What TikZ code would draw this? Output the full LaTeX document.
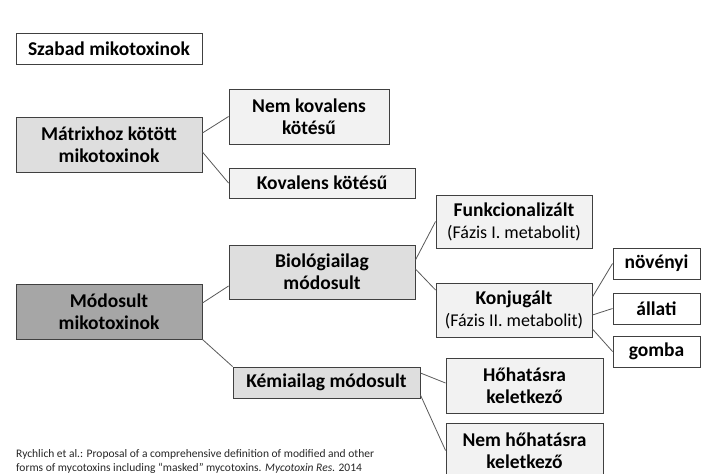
\documentclass[tikz,border=0pt]{standalone}
\usepackage{fontspec}
\setmainfont{Carlito}
\definecolor{edge}{HTML}{404040}
\definecolor{wire}{HTML}{595959}
\definecolor{pale}{HTML}{F2F2F2}
\definecolor{mid}{HTML}{DEDEDE}
\definecolor{dark}{HTML}{A6A6A6}
\newcommand\subtxt{\fontsize{18}{22}\selectfont\mdseries}
\tikzset{
  box/.style={draw=edge,line width=0.9pt,fill=pale,align=center,inner sep=1pt,
    font=\fontsize{19.5}{22}\selectfont\bfseries},
  wide/.style={box,minimum width=186pt},
  tall/.style={minimum height=55pt},
  small/.style={box,fill=white,minimum width=87pt,minimum height=31pt},
  link/.style={draw=wire,line width=0.8pt}
}
\begin{document}
\begin{tikzpicture}[x=1pt,y=-1pt]
\useasboundingbox (0,0) rectangle (702,474);
\node[wide,fill=white,minimum height=31pt] (szabad) at (109,48.5) {Szabad mikotoxinok};
\node[wide,tall,fill=mid] (matrix) at (109,144.5) {Mátrixhoz kötött\\mikotoxinok};
\node[box,tall,minimum width=160pt] (nemkov) at (309,116.5) {Nem kovalens\\kötésű};
\node[wide,minimum height=30pt] (kov) at (322,183) {Kovalens kötésű};
\node[wide,tall,fill=dark] (modosult) at (109,311.5) {Módosult\\mikotoxinok};
\node[wide,minimum height=54pt,fill=mid] (bio) at (322,272) {Biológiailag\\módosult};
\node[box,minimum width=156pt,minimum height=53pt] (funk) at (514,221.5) {Funkcionalizált\\{\subtxt(Fázis I. metabolit)}};
\node[box,minimum width=156pt,minimum height=54pt] (konj) at (514,310) {Konjugált\\{\subtxt(Fázis II. metabolit)}};
\node[small] (noveny) at (656.5,263.5) {növényi};
\node[small] (allat) at (656.5,308.5) {állati};
\node[small] (gomba) at (656.5,351.5) {gomba};
\node[box,fill=mid,minimum width=187pt,minimum height=31pt] (kem) at (326.5,382.5) {Kémiailag módosult};
\node[box,tall,minimum width=157pt] (ho) at (524.5,385.5) {Hőhatásra\\keletkező};
\node[box,tall,minimum width=157pt] (nemho) at (524.5,450.5) {Nem hőhatásra\\keletkező};
\node[anchor=west,align=left,inner sep=0pt,text=black!85,
  font=\fontsize{11.5}{13.5}\selectfont] (forras) at (16,461.5)
  {Rychlich et al.: Proposal of a comprehensive definition of modified and other\\
   forms of mycotoxins including “masked” mycotoxins. \textit{Mycotoxin Res.} 2014};
\draw[link] ([yshift=11.5pt]matrix.east) -- (nemkov.west);
\draw[link] ([yshift=-7.5pt]matrix.east) -- (kov.west);
\draw[link] ([yshift=8.5pt]modosult.east) -- ([yshift=-14pt]bio.west);
\draw[link] (modosult.south east) -- (kem.north west);
\draw[link] ([yshift=12pt]bio.east) -- (funk.west);
\draw[link] ([yshift=3pt]bio.east) -- ([yshift=20pt]konj.west);
\draw[link] ([yshift=13pt]konj.east) -- (noveny.west);
\draw[link] ([yshift=-5pt]konj.east) -- (allat.west);
\draw[link] ([yshift=-19pt]konj.east) -- (gomba.west);
\draw[link] ([yshift=9.5pt]kem.east) -- ([yshift=2.5pt]ho.west);
\draw[link] ([yshift=-12.5pt]kem.east) -- (nemho.west);
\end{tikzpicture}
\end{document}
